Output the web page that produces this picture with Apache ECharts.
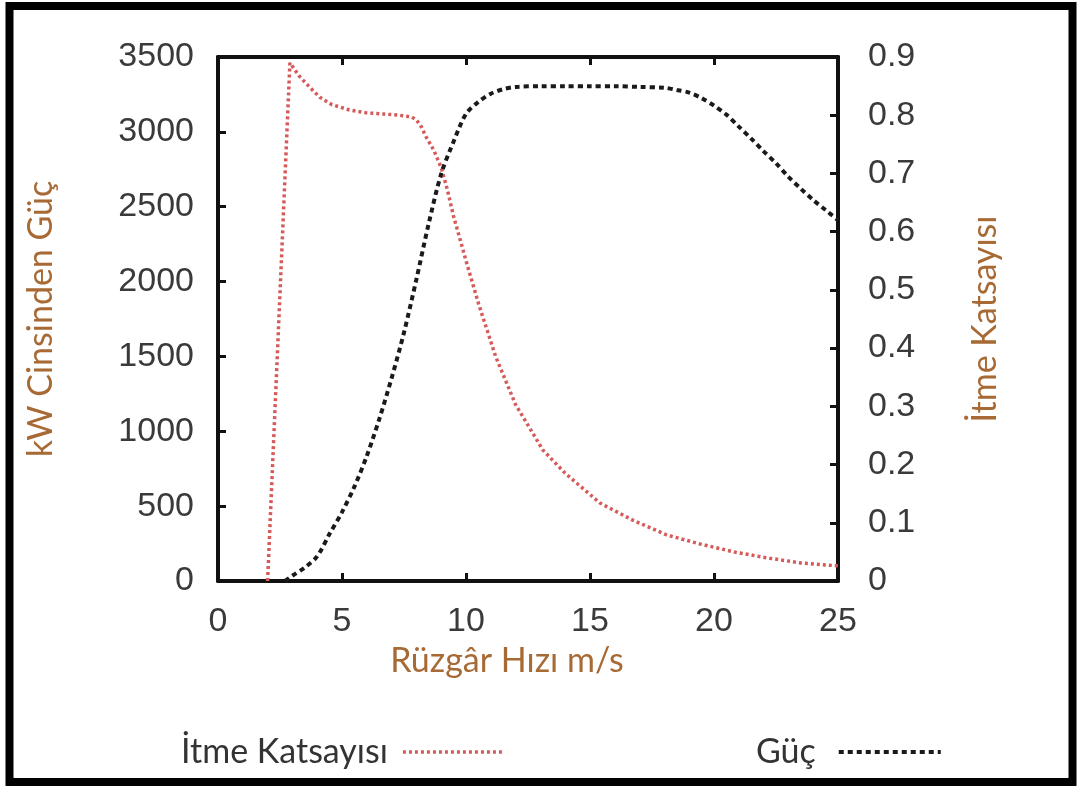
<!DOCTYPE html>
<html>
<head>
<meta charset="utf-8">
<script src="https://cdn.jsdelivr.net/npm/echarts@6/dist/echarts.min.js"></script>
<style>html,body{margin:0;padding:0;background:#fff}#c{width:1080px;height:787px}</style>
</head>
<body>
<div id="c"></div>
<script>
// Wind speed (m/s) and thrust coefficient
const thrustSpeed = [2.0, 2.9, 3.3, 3.7, 4.1, 4.6, 5.3, 6.0, 6.7, 7.3, 7.8, 8.0, 8.2, 8.4, 8.7, 9.0, 9.25, 9.5, 9.7, 10.0, 10.5, 11.2, 12.0, 13.1, 14.0, 15.4, 16.7, 18.1, 19.4, 20.8, 22.1, 23.5, 25.0];
const thrustCoef  = [0, 0.89, 0.866, 0.848, 0.831, 0.818, 0.809, 0.804, 0.802, 0.800, 0.797, 0.792, 0.780, 0.762, 0.740, 0.710, 0.672, 0.626, 0.596, 0.550, 0.477, 0.385, 0.303, 0.225, 0.185, 0.134, 0.105, 0.079, 0.064, 0.050, 0.040, 0.031, 0.026];
// Wind speed (m/s) and power (kW)
const powerSpeed = [2.7, 3.0, 3.5, 4.0, 4.5, 5.0, 5.5, 6.0, 6.5, 7.0, 7.5, 8.0, 8.5, 9.0, 9.5, 10.0, 10.5, 11.0, 11.5, 12.0, 13.0, 14.0, 15.0, 16.0, 17.0, 18.0, 18.5, 19.0, 19.5, 20.0, 20.5, 21.0, 21.5, 22.0, 22.5, 23.0, 23.5, 24.0, 24.5, 25.0];
const powerKW    = [0, 35, 90, 165, 315, 460, 630, 835, 1080, 1355, 1660, 2015, 2390, 2720, 2935, 3120, 3200, 3255, 3285, 3300, 3305, 3305, 3305, 3305, 3300, 3295, 3280, 3262, 3225, 3175, 3115, 3035, 2955, 2870, 2790, 2700, 2620, 2545, 2478, 2410];
const xTicks = { min: 0, max: 25, interval: 5 };
const leftTicks = { min: 0, max: 3500, interval: 500 };
const rightTicks = { min: 0, max: 0.9, interval: 0.1 };
const names = { x: 'Rüzgâr Hızı m/s', left: 'kW Cinsinden Güç', right: 'İtme Katsayısı', thrust: 'İtme Katsayısı', power: 'Güç' };

const thrustData = thrustSpeed.map((s, i) => [s, thrustCoef[i]]);
const powerData = powerSpeed.map((s, i) => [s, powerKW[i]]);

const axisLine = () => ({ show: true, onZero: false, lineStyle: { color: '#111', width: 4 } });
const tick = () => ({ show: true, inside: true, length: 8, lineStyle: { color: '#111', width: 3 } });
const tickFont = () => ({ fontFamily: 'Liberation Sans, Arial, sans-serif', fontSize: 34, color: '#3a3a3a' });
const nameFont = () => ({ fontFamily: 'Lato, sans-serif', fontSize: 34, color: '#a86a35' });
const plain = v => String(Math.round(v * 1000) / 1000);

const chart = echarts.init(document.getElementById('c'), null, { renderer: 'canvas' });
chart.setOption({
  animation: false,
  backgroundColor: '#fff',
  grid: { left: 218, right: 242, top: 57, bottom: 206, containLabel: false },
  xAxis: [
    { type: 'value', position: 'bottom', min: xTicks.min, max: xTicks.max, interval: xTicks.interval,
      axisLine: axisLine(), axisTick: tick(), splitLine: { show: false },
      axisLabel: Object.assign({ margin: 24, formatter: plain }, tickFont()),
      name: names.x, nameLocation: 'middle', nameGap: 62,
      nameTextStyle: Object.assign({ padding: [0, 42, 0, 0] }, nameFont()) },
    { type: 'value', position: 'top', min: xTicks.min, max: xTicks.max, interval: xTicks.interval,
      axisLine: axisLine(), axisTick: tick(), splitLine: { show: false }, axisLabel: { show: false } }
  ],
  yAxis: [
    { type: 'value', position: 'left', min: leftTicks.min, max: leftTicks.max, interval: leftTicks.interval,
      axisLine: axisLine(), axisTick: tick(), splitLine: { show: false },
      axisLabel: Object.assign({ margin: 24, formatter: plain }, tickFont()),
      name: names.left, nameLocation: 'middle', nameRotate: 90, nameGap: 160,
      nameTextStyle: nameFont() },
    { type: 'value', position: 'right', min: rightTicks.min, max: rightTicks.max, interval: rightTicks.interval,
      axisLine: axisLine(), axisTick: tick(), splitLine: { show: false },
      axisLabel: Object.assign({ margin: 30, formatter: plain }, tickFont()),
      name: names.right, nameLocation: 'middle', nameRotate: 90, nameGap: 130,
      nameTextStyle: nameFont() }
  ],
  legend: [
    { data: [names.thrust], left: 176, top: 730, align: 'right', itemWidth: 102, itemHeight: 14,
      itemStyle: { opacity: 0 }, lineStyle: { width: 3.5 },
      textStyle: { fontFamily: 'Lato, sans-serif', fontSize: 34, color: '#333', padding: [0, 10, 0, 0] } },
    { data: [names.power], left: 751, top: 730, align: 'right', itemWidth: 102, itemHeight: 14,
      itemStyle: { opacity: 0 }, lineStyle: { width: 4 },
      textStyle: { fontFamily: 'Lato, sans-serif', fontSize: 34, color: '#333', padding: [0, 18, 0, 0] } }
  ],
  series: [
    { name: names.thrust, type: 'line', xAxisIndex: 0, yAxisIndex: 1, data: thrustData,
      showSymbol: false, symbol: 'none', smooth: false,
      lineStyle: { color: '#d65a5a', width: 3.5, type: [3, 3] }, itemStyle: { color: '#d65a5a' } },
    { name: names.power, type: 'line', xAxisIndex: 0, yAxisIndex: 0, data: powerData,
      showSymbol: false, symbol: 'none', smooth: 0.3,
      lineStyle: { color: '#1a1a1a', width: 4, type: [5, 4] }, itemStyle: { color: '#1a1a1a' } }
  ],
  graphic: [
    { type: 'rect', shape: { x: 9.5, y: 6, width: 1063, height: 776 },
      style: { fill: 'none', stroke: '#000', lineWidth: 8 }, silent: true, z: 100 }
  ]
});
</script>
</body>
</html>
